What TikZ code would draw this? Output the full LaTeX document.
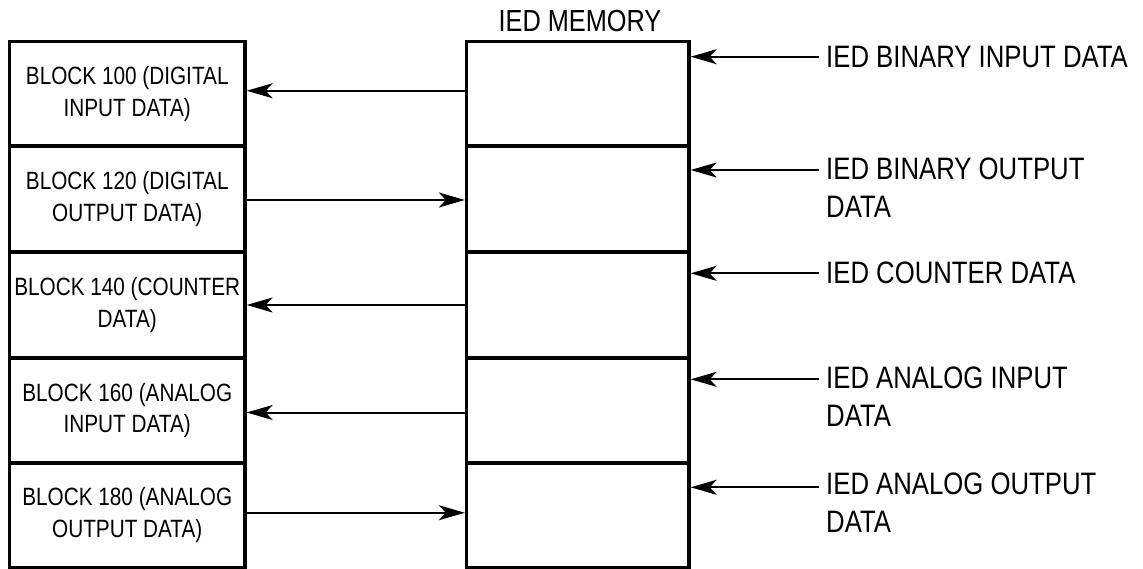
\documentclass[tikz,border=0pt]{standalone}
\usepackage{fontspec}
\setmainfont[FakeStretch=0.83]{Liberation Sans}
\usetikzlibrary{arrows.meta}
\begin{document}
\begin{tikzpicture}[x=1pt,y=-1pt,
  cell/.style={draw, line width=3.3pt, rectangle, inner sep=0pt, align=center,
    font=\fontsize{25}{31.6}\selectfont},
  lcell/.style={cell, minimum width=235.5pt},
  mcell/.style={cell, minimum width=222.5pt},
  rlabel/.style={anchor=west, inner sep=0pt, align=left,
    font=\fontsize{31}{38}\selectfont},
  arr/.style={line width=2pt, -{Stealth[length=26pt,width=15pt,inset=7pt]}}]
\useasboundingbox (0,0) rectangle (1143,569);
% left column
\node[lcell, minimum height=104.5pt] (l1) at (127.25,93.75) {BLOCK 100 (DIGITAL\\INPUT DATA)};
\node[lcell, minimum height=106pt] (l2) at (127.25,199) {BLOCK 120 (DIGITAL\\OUTPUT DATA)};
\node[lcell, minimum height=106pt] (l3) at (127.25,305) {BLOCK 140 (COUNTER\\DATA)};
\node[lcell, minimum height=105pt] (l4) at (127.25,410.5) {BLOCK 160 (ANALOG\\INPUT DATA)};
\node[lcell, minimum height=104.5pt] (l5) at (127.25,515.25) {BLOCK 180 (ANALOG\\OUTPUT DATA)};
% middle column
\node[mcell, minimum height=104.5pt] (m1) at (577.75,93.75) {};
\node[mcell, minimum height=106pt] (m2) at (577.75,199) {};
\node[mcell, minimum height=106pt] (m3) at (577.75,305) {};
\node[mcell, minimum height=105pt] (m4) at (577.75,410.5) {};
\node[mcell, minimum height=104.5pt] (m5) at (577.75,515.25) {};
\node[font=\fontsize{30.5}{36}\selectfont, inner sep=0pt] (mem) at (580,21) {IED MEMORY};
% left connectors
\draw[arr] ([yshift=3pt]m1.west) -- ([yshift=3pt]l1.east);
\draw[arr] ([yshift=-1pt]l2.east) -- ([yshift=-1pt]m2.west);
\draw[arr] (m3.west) -- (l3.east);
\draw[arr] ([yshift=-2pt]m4.west) -- ([yshift=-2pt]l4.east);
\draw[arr] ([yshift=2.5pt]l5.east) -- ([yshift=2.5pt]m5.west);
% right labels
\node[rlabel] (r1) at (826,56.7) {IED BINARY INPUT DATA};
\node[rlabel] (r2) at (826,188) {IED BINARY OUTPUT\\DATA};
\node[rlabel] (r3) at (826,273.3) {IED COUNTER DATA};
\node[rlabel] (r4) at (826,397) {IED ANALOG INPUT\\DATA};
\node[rlabel] (r5) at (826,503) {IED ANALOG OUTPUT\\DATA};
\coordinate (a1) at (819,56.7);
\coordinate (a2) at (819,170);
\coordinate (a3) at (819,273.3);
\coordinate (a4) at (819,379.3);
\coordinate (a5) at (819,487.3);
\draw[arr] (a1) -- (a1 -| m1.east);
\draw[arr] (a2) -- (a2 -| m2.east);
\draw[arr] (a3) -- (a3 -| m3.east);
\draw[arr] (a4) -- (a4 -| m4.east);
\draw[arr] (a5) -- (a5 -| m5.east);
\end{tikzpicture}
\end{document}
